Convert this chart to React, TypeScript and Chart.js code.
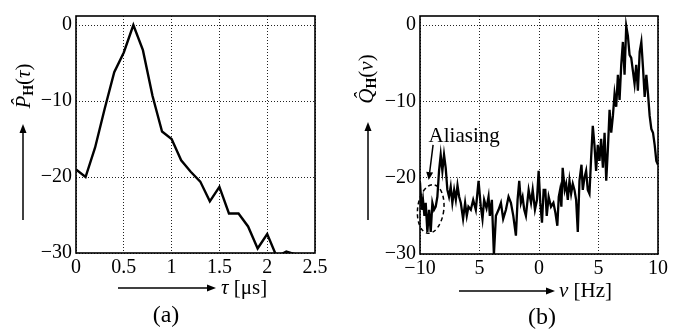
import React, { useEffect, useRef } from "react";
import { Chart, registerables } from "chart.js";

Chart.register(...registerables);

// ---------- Panel (a): power delay profile ----------
const tauUs = [0, 0.1, 0.2, 0.3, 0.4, 0.5, 0.6, 0.7, 0.8, 0.9, 1.0, 1.1, 1.2, 1.3, 1.4, 1.5, 1.6, 1.7, 1.8, 1.9, 2.0, 2.1, 2.2, 2.3, 2.4, 2.5];
const powerDb = [-19.0, -20.0, -16.1, -11.0, -6.2, -3.6, 0, -3.3, -9.3, -14.0, -15.0, -17.8, -19.3, -20.6, -23.2, -21.3, -24.8, -24.8, -26.5, -29.4, -27.5, -30.5, -29.8, -30.2, -31.0, -32.0];
const tauTicks = [0, 0.5, 1, 1.5, 2, 2.5];
const tauTickLabels = ["0", "0.5", "1", "1.5", "2", "2.5"];

// ---------- Panel (b): Doppler spectrum ----------
const nuHz = [
  -10.0, -9.86, -9.75, -9.63, -9.52, -9.38, -9.24, -9.1, -8.96, -8.82, -8.68, -8.54, -8.4, -8.26, -8.12, -7.98, -7.84, -7.7, -7.56, -7.42,
  -7.28, -7.13, -6.99, -6.85, -6.71, -6.57, -6.38, -6.21, -6.07, -5.93, -5.73, -5.53, -5.31, -5.08, -4.89, -4.75, -4.61, -4.41, -4.24, -4.13,
  -3.96, -3.79, -3.62, -3.4, -3.2, -3.01, -2.78, -2.56, -2.36, -2.16, -1.94, -1.8, -1.66, -1.52, -1.38, -1.24, -1.1, -0.87, -0.67, -0.53,
  -0.34, -0.17, -0.03, 0.11, 0.25, 0.39, 0.53, 0.65, 0.81, 1.01, 1.21, 1.38, 1.54, 1.66, 1.77, 1.88, 1.99, 2.16, 2.28, 2.42,
  2.56, 2.7, 2.84, 2.98, 3.12, 3.26, 3.4, 3.57, 3.68, 3.82, 3.96, 4.1, 4.24, 4.38, 4.52, 4.66, 4.8, 4.94, 5.08, 5.22,
  5.37, 5.51, 5.65, 5.79, 5.93, 6.07, 6.21, 6.35, 6.49, 6.63, 6.77, 6.91, 7.05, 7.19, 7.33, 7.47, 7.61, 7.75, 7.89, 8.03,
  8.17, 8.31, 8.46, 8.6, 8.74, 8.88, 9.02, 9.16, 9.3, 9.44, 9.58, 9.72, 9.86, 10.0,
];
const dopplerDb = [
  -20.6, -24.2, -22.9, -25.0, -23.3, -27.1, -24.2, -27.1, -23.3, -24.2, -23.8, -22.5, -19.1, -17.0, -19.1, -17.0, -18.7, -21.6, -22.5, -21.2,
  -23.3, -21.6, -22.9, -21.0, -22.5, -23.3, -25.4, -23.3, -25.0, -23.8, -24.2, -22.9, -24.2, -20.4, -23.8, -25.4, -22.9, -24.0, -22.5, -25.0,
  -22.9, -30.1, -25.0, -24.2, -23.3, -25.4, -24.2, -22.5, -23.3, -25.0, -27.6, -22.9, -20.4, -23.3, -22.5, -24.2, -25.0, -21.6, -23.3, -21.6,
  -24.2, -22.9, -19.1, -23.3, -25.9, -21.6, -21.6, -25.0, -22.5, -23.8, -23.3, -24.6, -26.3, -22.5, -21.6, -23.8, -18.7, -21.6, -20.8, -22.9,
  -20.4, -22.1, -20.8, -21.6, -22.9, -27.1, -20.4, -18.3, -21.6, -20.0, -19.1, -21.6, -22.1, -17.4, -13.2, -15.7, -19.1, -15.7, -17.8, -14.9,
  -18.7, -14.1, -20.4, -16.2, -11.1, -14.1, -11.9, -9.0, -10.7, -6.5, -9.8, -5.2, -2.2, -6.5, -0.1, -1.4, -3.9, -4.3, -6.0, -7.7,
  -5.2, -8.6, -3.5, -2.2, -5.6, -9.4, -6.5, -9.0, -11.9, -13.6, -14.1, -15.7, -17.8, -18.3,
];
const nuTicks = [-10, -5, 0, 5, 10];
const nuTickLabels = ["\u221210", "5", "0", "5", "10"];

// ---------- Shared level axis ----------
const levelTicks = [-30, -20, -10, 0];
const levelTickLabels = ["\u221230", "\u221220", "\u221210", "0"];
const levelMin = -30;
const levelMax = 1.2;

const SERIF = "'Liberation Serif', 'DejaVu Serif', serif";

type Run = { text: string; font: string; dy?: number };

function drawRuns(ctx: CanvasRenderingContext2D, runs: Run[], x: number, y: number, align: "center" | "left") {
  let total = 0;
  runs.forEach((r) => {
    ctx.font = r.font;
    total += ctx.measureText(r.text).width;
  });
  let cx = align === "center" ? x - total / 2 : x;
  ctx.textBaseline = "middle";
  ctx.textAlign = "left";
  runs.forEach((r) => {
    ctx.font = r.font;
    ctx.fillText(r.text, cx, y + (r.dy || 0));
    cx += ctx.measureText(r.text).width;
  });
}

function drawArrow(ctx: CanvasRenderingContext2D, x1: number, y1: number, x2: number, y2: number, lw = 1.5, head = 9, hw = 3.5) {
  const ang = Math.atan2(y2 - y1, x2 - x1);
  const bx = x2 - head * Math.cos(ang);
  const by = y2 - head * Math.sin(ang);
  ctx.beginPath();
  ctx.moveTo(x1, y1);
  ctx.lineTo(bx, by);
  ctx.lineWidth = lw;
  ctx.stroke();
  ctx.beginPath();
  ctx.moveTo(x2, y2);
  ctx.lineTo(bx + hw * Math.sin(ang), by - hw * Math.cos(ang));
  ctx.lineTo(bx - hw * Math.sin(ang), by + hw * Math.cos(ang));
  ctx.closePath();
  ctx.fill();
}

const decorPlugin = {
  id: "decor",
  afterDraw(chart: any, _args: any, o: any) {
    const ctx: CanvasRenderingContext2D = chart.ctx;
    const { left, top, right, bottom } = chart.chartArea;
    ctx.save();
    ctx.strokeStyle = "#000";
    ctx.fillStyle = "#000";
    ctx.setLineDash([]);
    // frame
    ctx.lineWidth = 1.6;
    ctx.strokeRect(left, top, right - left, bottom - top);

    // y label (rotated) + arrow
    ctx.save();
    ctx.translate(o.yLabelX, o.yLabelY);
    ctx.rotate(-Math.PI / 2);
    drawRuns(ctx, o.yLabelRuns, 0, 0, "center");
    ctx.restore();
    drawArrow(ctx, o.yArrowX, o.yArrowFrom, o.yArrowX, o.yArrowTo);

    // x label + arrow
    drawArrow(ctx, o.xArrowFrom, o.xArrowY, o.xArrowTo, o.xArrowY);
    drawRuns(ctx, o.xLabelRuns, o.xLabelX, o.xArrowY, "left");

    // caption
    drawRuns(ctx, [{ text: o.caption, font: `24px ${SERIF}` }], o.captionX, o.captionY, "center");

    // annotation
    if (o.note) {
      const xs = chart.scales.x;
      const ys = chart.scales.y;
      const n = o.note;
      ctx.font = `21px ${SERIF}`;
      ctx.textAlign = "left";
      ctx.textBaseline = "alphabetic";
      ctx.fillText(n.text, xs.getPixelForValue(n.textAt[0]), ys.getPixelForValue(n.textAt[1]));
      drawArrow(
        ctx,
        xs.getPixelForValue(n.arrowFrom[0]),
        ys.getPixelForValue(n.arrowFrom[1]),
        xs.getPixelForValue(n.arrowTo[0]),
        ys.getPixelForValue(n.arrowTo[1]),
        1.5,
        8,
        3.5
      );
      const cx = xs.getPixelForValue(n.ellipseCenter[0]);
      const cy = ys.getPixelForValue(n.ellipseCenter[1]);
      const rx = Math.abs(xs.getPixelForValue(n.ellipseCenter[0] + n.ellipseRadius[0]) - cx);
      const ry = Math.abs(ys.getPixelForValue(n.ellipseCenter[1] + n.ellipseRadius[1]) - cy);
      ctx.beginPath();
      ctx.setLineDash([4, 3]);
      ctx.lineWidth = 1.5;
      ctx.ellipse(cx, cy, rx, ry, 0.12, 0, Math.PI * 2);
      ctx.stroke();
    }
    ctx.restore();
  },
};

function makeConfig(p: any) {
  return {
    type: "line",
    data: {
      datasets: [
        {
          data: p.xs.map((x: number, i: number) => ({ x, y: p.ys[i] })),
          borderColor: "#000",
          borderWidth: p.lineWidth,
          pointRadius: 0,
          tension: 0,
          fill: false,
        },
      ],
    },
    options: {
      animation: false,
      responsive: false,
      devicePixelRatio: 1,
      layout: { padding: { top: 6, right: p.padRight, left: 0, bottom: 0 } },
      plugins: {
        legend: { display: false },
        tooltip: { enabled: false },
        decor: p.decor,
      },
      scales: {
        x: {
          type: "linear",
          min: p.xMin,
          max: p.xMax,
          afterBuildTicks: (s: any) => {
            s.ticks = p.xTicks.map((v: number) => ({ value: v }));
          },
          afterFit: (s: any) => {
            s.height = p.xAxisHeight;
          },
          ticks: {
            autoSkip: false,
            maxRotation: 0,
            padding: 3,
            color: "#000",
            font: { family: SERIF, size: 20 },
            callback: (v: number) => p.xTickLabels[p.xTicks.indexOf(v)] ?? "",
          },
          grid: { color: "#222", lineWidth: 1, drawTicks: false },
          border: { display: false, dash: [1, 2] },
        },
        y: {
          type: "linear",
          min: levelMin,
          max: levelMax,
          afterBuildTicks: (s: any) => {
            s.ticks = levelTicks.map((v) => ({ value: v }));
          },
          afterFit: (s: any) => {
            s.width = p.yAxisWidth;
          },
          ticks: {
            autoSkip: false,
            padding: 4,
            color: "#000",
            font: { family: SERIF, size: 20 },
            callback: (v: number) => levelTickLabels[levelTicks.indexOf(v)] ?? "",
          },
          grid: { color: "#222", lineWidth: 1, drawTicks: false },
          border: { display: false, dash: [1, 2] },
        },
      },
    },
    plugins: [decorPlugin],
  } as any;
}

function Panel({ cfg, left }: { cfg: any; left: number }) {
  const ref = useRef<HTMLCanvasElement>(null);
  useEffect(() => {
    if (!ref.current) return;
    const chart = new Chart(ref.current, makeConfig(cfg));
    return () => chart.destroy();
  }, []);
  return (
    <canvas
      ref={ref}
      width={338}
      height={329}
      style={{ position: "absolute", left, top: 0, width: 338, height: 329 }}
    />
  );
}

const panelA = {
  xs: tauUs,
  ys: powerDb,
  lineWidth: 2.4,
  xMin: 0,
  xMax: 2.5,
  xTicks: tauTicks,
  xTickLabels: tauTickLabels,
  yAxisWidth: 76,
  xAxisHeight: 76,
  padRight: 23,
  decor: {
    yLabelX: 24,
    yLabelY: 86,
    yLabelRuns: [
      { text: "P\u0302", font: `italic 21px ${SERIF}` },
      { text: "H", font: `bold 14px ${SERIF}`, dy: 5 },
      { text: "(", font: `21px ${SERIF}` },
      { text: "\u03C4", font: `italic 21px ${SERIF}` },
      { text: ")", font: `21px ${SERIF}` },
    ],
    yArrowX: 23,
    yArrowFrom: 220,
    yArrowTo: 124,
    xArrowFrom: 118,
    xArrowTo: 216,
    xArrowY: 288,
    xLabelX: 221,
    xLabelRuns: [
      { text: "\u03C4", font: `italic 21px ${SERIF}` },
      { text: " [\u03BCs]", font: `21px ${SERIF}` },
    ],
    caption: "(a)",
    captionX: 166,
    captionY: 316,
  },
};

const panelB = {
  xs: nuHz,
  ys: dopplerDb,
  lineWidth: 2.3,
  xMin: -10,
  xMax: 10,
  xTicks: nuTicks,
  xTickLabels: nuTickLabels,
  yAxisWidth: 82,
  xAxisHeight: 75,
  padRight: 18,
  decor: {
    yLabelX: 29,
    yLabelY: 79,
    yLabelRuns: [
      { text: "Q\u0302", font: `italic 21px ${SERIF}` },
      { text: "H", font: `bold 14px ${SERIF}`, dy: 5 },
      { text: "(", font: `21px ${SERIF}` },
      { text: "\u03BD", font: `italic 21px ${SERIF}` },
      { text: ")", font: `21px ${SERIF}` },
    ],
    yArrowX: 30,
    yArrowFrom: 220,
    yArrowTo: 122,
    xArrowFrom: 121,
    xArrowTo: 217,
    xArrowY: 291,
    xLabelX: 221,
    xLabelRuns: [
      { text: "\u03BD", font: `italic 21px ${SERIF}` },
      { text: " [Hz]", font: `21px ${SERIF}` },
    ],
    caption: "(b)",
    captionX: 204,
    captionY: 318,
    note: {
      text: "Aliasing",
      textAt: [-9.28, -15.3],
      arrowFrom: [-8.9, -15.7],
      arrowTo: [-9.27, -20.3],
      ellipseCenter: [-9.1, -24.1],
      ellipseRadius: [1.1, 3.2],
    },
  },
};

export default function App() {
  return (
    <div style={{ position: "absolute", left: 0, top: 0, width: 676, height: 329, background: "#fff" }}>
      <Panel cfg={panelA} left={0} />
      <Panel cfg={panelB} left={338} />
    </div>
  );
}
